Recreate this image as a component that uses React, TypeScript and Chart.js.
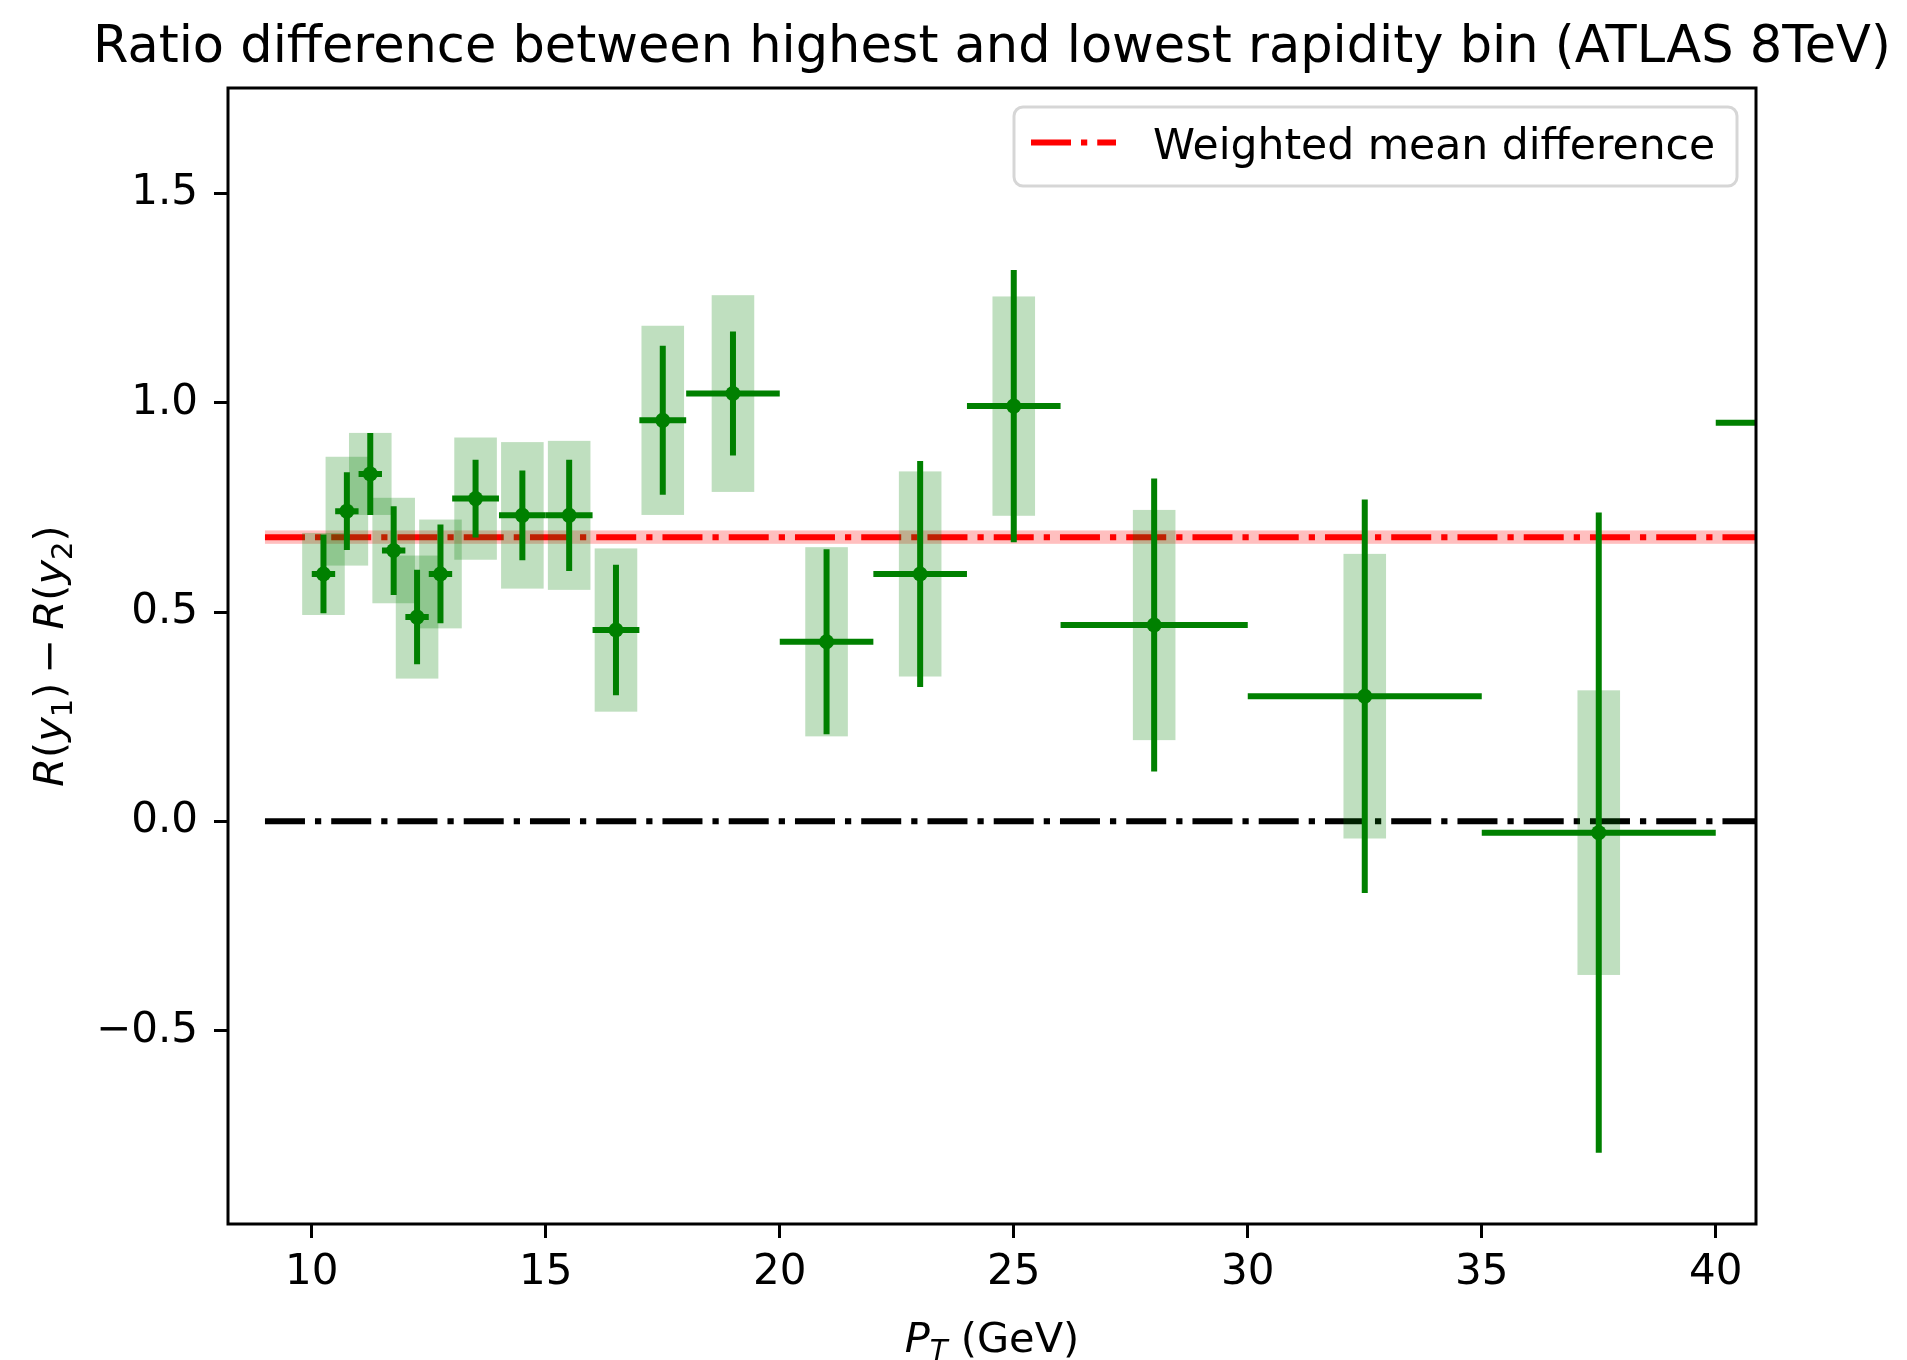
import React, { useEffect, useRef } from "react";
import { Chart, registerables } from "chart.js";

Chart.register(...registerables);

// ---------------- data ----------------
const ptBinCenters = [10.25, 10.75, 11.25, 11.75, 12.25, 12.75, 13.5, 14.5, 15.5, 16.5, 17.5, 19, 21, 23, 25, 28, 32.5, 37.5, 42.5];
const ptBinHalfWidths = [0.25, 0.25, 0.25, 0.25, 0.25, 0.25, 0.5, 0.5, 0.5, 0.5, 0.5, 1, 1, 1, 1, 2, 2.5, 2.5, 2.5];
const ratioDifferences = [0.591, 0.741, 0.83, 0.647, 0.488, 0.591, 0.771, 0.731, 0.731, 0.457, 0.958, 1.022, 0.429, 0.591, 0.992, 0.469, 0.299, -0.027, 0.952];
const statErrors = [0.094, 0.093, 0.098, 0.106, 0.113, 0.118, 0.093, 0.107, 0.133, 0.156, 0.178, 0.148, 0.221, 0.27, 0.325, 0.35, 0.47, 0.765, 0.5];
const sysErrors = [0.098, 0.13, 0.098, 0.126, 0.147, 0.13, 0.146, 0.175, 0.178, 0.195, 0.226, 0.235, 0.226, 0.245, 0.262, 0.275, 0.34, 0.34, 0.35];
const weightedMeanDifference = 0.679;
const weightedMeanError = 0.016;
const zeroLevel = 0;
const referenceLineX = [9, 45];
const xTickValues = [10, 15, 20, 25, 30, 35, 40];
const yTickValues = [-0.5, 0, 0.5, 1.0, 1.5];
const xLimits = [8.21, 40.86];
const yLimits = [-0.962, 1.752];

const titleText = "Ratio difference between highest and lowest rapidity bin (ATLAS 8TeV)";
const legendLabel = "Weighted mean difference";

// ---------------- styles ----------------
const FONT = "'DejaVu Sans', 'Noto Sans', sans-serif";
const GREEN = "#008000";
const SYS_FILL = "rgba(0,128,0,0.25)";
const BAND_FILL = "rgba(255,0,0,0.25)";
const BOX_HALF = 0.455;
const LINE_W = 6;
const DASHDOT = [40, 10, 6.25, 10];
const LABEL_SIZE = 41.5;

type Part = { t: string; italic?: boolean; scale?: number; dy?: number; gapBefore?: number; gapAfter?: number };

function partFont(p: Part, size: number) {
  return `${p.italic ? "italic " : ""}${Math.round(size * (p.scale ?? 1) * 10) / 10}px ${FONT}`;
}

function drawParts(ctx: CanvasRenderingContext2D, parts: Part[], size: number, cx: number, baseline: number) {
  let total = 0;
  const widths = parts.map((p) => {
    ctx.font = partFont(p, size);
    const w = ctx.measureText(p.t).width + ((p.gapBefore ?? 0) + (p.gapAfter ?? 0)) * size;
    total += w;
    return w;
  });
  let x = cx - total / 2;
  ctx.textAlign = "left";
  ctx.textBaseline = "alphabetic";
  parts.forEach((p, i) => {
    ctx.font = partFont(p, size);
    ctx.fillText(p.t, x + (p.gapBefore ?? 0) * size, baseline + (p.dy ?? 0) * size);
    x += widths[i];
  });
}

const decorPlugin = {
  id: "decor",
  beforeDatasetsDraw(chart: any) {
    const { ctx, chartArea: a, scales } = chart;
    const xs = scales.x;
    const ys = scales.y;
    ctx.save();
    ctx.beginPath();
    ctx.rect(a.left, a.top, a.right - a.left, a.bottom - a.top);
    ctx.clip();
    const x0 = xs.getPixelForValue(referenceLineX[0]);
    const x1 = xs.getPixelForValue(referenceLineX[1]);
    const yt = ys.getPixelForValue(weightedMeanDifference + weightedMeanError);
    const yb = ys.getPixelForValue(weightedMeanDifference - weightedMeanError);
    ctx.fillStyle = BAND_FILL;
    ctx.fillRect(x0, yt, x1 - x0, yb - yt);
    ctx.restore();
  },
  beforeDatasetDraw(chart: any, args: any) {
    if (args.index !== 0) return;
    const { ctx, chartArea: a, scales } = chart;
    const xs = scales.x;
    const ys = scales.y;
    ctx.save();
    ctx.beginPath();
    ctx.rect(a.left, a.top, a.right - a.left, a.bottom - a.top);
    ctx.clip();
    // systematic boxes
    ctx.fillStyle = SYS_FILL;
    ptBinCenters.forEach((c, i) => {
      const v = ratioDifferences[i];
      const s = sysErrors[i];
      const l = xs.getPixelForValue(c - BOX_HALF);
      const r = xs.getPixelForValue(c + BOX_HALF);
      const t = ys.getPixelForValue(v + s);
      const b = ys.getPixelForValue(v - s);
      ctx.fillRect(l, t, r - l, b - t);
    });
    // error bars
    ctx.strokeStyle = GREEN;
    ctx.lineWidth = LINE_W;
    ctx.lineCap = "butt";
    ctx.setLineDash([]);
    ptBinCenters.forEach((c, i) => {
      const v = ratioDifferences[i];
      const h = ptBinHalfWidths[i];
      const e = statErrors[i];
      ctx.beginPath();
      ctx.moveTo(xs.getPixelForValue(c - h), ys.getPixelForValue(v));
      ctx.lineTo(xs.getPixelForValue(c + h), ys.getPixelForValue(v));
      ctx.moveTo(xs.getPixelForValue(c), ys.getPixelForValue(v + e));
      ctx.lineTo(xs.getPixelForValue(c), ys.getPixelForValue(v - e));
      ctx.stroke();
    });
    ctx.restore();
  },
  afterDraw(chart: any) {
    const { ctx, chartArea: a } = chart;
    ctx.save();
    // frame
    ctx.strokeStyle = "#000";
    ctx.lineWidth = 3;
    ctx.setLineDash([]);
    ctx.strokeRect(a.left, a.top, a.right - a.left, a.bottom - a.top);

    const cx = (a.left + a.right) / 2;
    const cy = (a.top + a.bottom) / 2;
    ctx.fillStyle = "#000";

    // title
    ctx.font = `51px ${FONT}`;
    ctx.textAlign = "center";
    ctx.textBaseline = "alphabetic";
    ctx.fillText(titleText, cx, a.top - 26);

    // x label: P_T (GeV)
    drawParts(
      ctx,
      [
        { t: "P", italic: true },
        { t: "T", italic: true, scale: 0.7, dy: 0.21 },
        { t: " (GeV)" },
      ],
      LABEL_SIZE,
      cx,
      1351.5
    );

    // y label: R(y_1) − R(y_2)
    ctx.save();
    ctx.translate(63, cy);
    ctx.rotate(-Math.PI / 2);
    drawParts(
      ctx,
      [
        { t: "R", italic: true },
        { t: "(" },
        { t: "y", italic: true },
        { t: "1", scale: 0.7, dy: 0.21 },
        { t: ")" },
        { t: "\u2212", gapBefore: 0.22, gapAfter: 0.22 },
        { t: "R", italic: true },
        { t: "(" },
        { t: "y", italic: true },
        { t: "2", scale: 0.7, dy: 0.21 },
        { t: ")" },
      ],
      LABEL_SIZE,
      0,
      0
    );
    ctx.restore();

    // legend
    const lw = 723;
    const lh = 79;
    const lx = a.right - 19 - lw;
    const ly = a.top + 19;
    ctx.beginPath();
    (ctx as any).roundRect(lx, ly, lw, lh, 9);
    ctx.fillStyle = "rgba(255,255,255,0.8)";
    ctx.fill();
    ctx.strokeStyle = "rgba(204,204,204,0.8)";
    ctx.lineWidth = 3;
    ctx.stroke();
    ctx.beginPath();
    ctx.setLineDash(DASHDOT);
    ctx.strokeStyle = "#ff0000";
    ctx.lineWidth = LINE_W;
    ctx.lineCap = "butt";
    ctx.moveTo(lx + 17, ly + 35.5);
    ctx.lineTo(lx + 102, ly + 35.5);
    ctx.stroke();
    ctx.setLineDash([]);
    ctx.fillStyle = "#000";
    ctx.font = `42.5px ${FONT}`;
    ctx.textAlign = "left";
    ctx.textBaseline = "alphabetic";
    ctx.fillText(legendLabel, lx + 139, ly + 51.5);
    ctx.restore();
  },
};

function fmtY(v: number) {
  return v < 0 ? "\u2212" + Math.abs(v).toFixed(1) : v.toFixed(1);
}

export default function App() {
  const ref = useRef<HTMLCanvasElement>(null);
  useEffect(() => {
    const canvas = ref.current;
    if (!canvas) return;
    const markerData = ptBinCenters.map((c, i) => ({ x: c, y: ratioDifferences[i] }));
    const meanLine = referenceLineX.map((x) => ({ x, y: weightedMeanDifference }));
    const zeroLine = referenceLineX.map((x) => ({ x, y: zeroLevel }));
    const chart = new Chart(canvas, {
      type: "scatter",
      data: {
        datasets: [
          {
            label: "data",
            data: markerData,
            pointRadius: 7.5,
            pointBackgroundColor: GREEN,
            pointBorderWidth: 0,
            showLine: false,
            clip: 0,
          } as any,
          {
            label: legendLabel,
            data: meanLine,
            showLine: true,
            borderColor: "#ff0000",
            borderWidth: LINE_W,
            borderDash: DASHDOT,
            pointRadius: 0,
            fill: false,
            clip: 0,
          } as any,
          {
            label: "zero",
            data: zeroLine,
            showLine: true,
            borderColor: "#000000",
            borderWidth: LINE_W,
            borderDash: DASHDOT,
            pointRadius: 0,
            fill: false,
            clip: 0,
          } as any,
        ],
      },
      options: {
        animation: false,
        responsive: false,
        devicePixelRatio: 1,
        events: [],
        layout: { padding: { top: 88, right: 151, left: 0, bottom: 0 } },
        plugins: {
          legend: { display: false },
          tooltip: { enabled: false },
          title: { display: false },
        },
        scales: {
          x: {
            type: "linear",
            min: xLimits[0],
            max: xLimits[1],
            afterBuildTicks: (scale: any) => {
              scale.ticks = xTickValues.map((v) => ({ value: v }));
            },
            afterFit: (scale: any) => {
              scale.height = 136;
            },
            ticks: {
              autoSkip: false,
              maxRotation: 0,
              minRotation: 0,
              padding: 10,
              color: "#000",
              font: { family: FONT, size: 42 },
              callback: (v: any) => String(v),
            },
            grid: {
              display: true,
              drawOnChartArea: false,
              drawTicks: true,
              tickLength: 14,
              tickWidth: 3,
              tickColor: "#000",
              lineWidth: 3,
              color: "#000",
            },
            border: { display: false },
          },
          y: {
            type: "linear",
            min: yLimits[0],
            max: yLimits[1],
            afterBuildTicks: (scale: any) => {
              scale.ticks = yTickValues.map((v) => ({ value: v }));
            },
            afterFit: (scale: any) => {
              scale.width = 228;
            },
            ticks: {
              autoSkip: false,
              padding: 16,
              color: "#000",
              font: { family: FONT, size: 42 },
              callback: (v: any) => fmtY(Number(v)),
            },
            grid: {
              display: true,
              drawOnChartArea: false,
              drawTicks: true,
              tickLength: 14,
              tickWidth: 3,
              tickColor: "#000",
              lineWidth: 3,
              color: "#000",
            },
            border: { display: false },
          },
        },
      } as any,
      plugins: [decorPlugin as any],
    });
    return () => chart.destroy();
  }, []);
  return (
    <div style={{ position: "fixed", left: 0, top: 0, width: 1907, height: 1360, background: "#ffffff" }}>
      <canvas ref={ref} width={1907} height={1360} style={{ width: 1907, height: 1360, display: "block" }} />
    </div>
  );
}
